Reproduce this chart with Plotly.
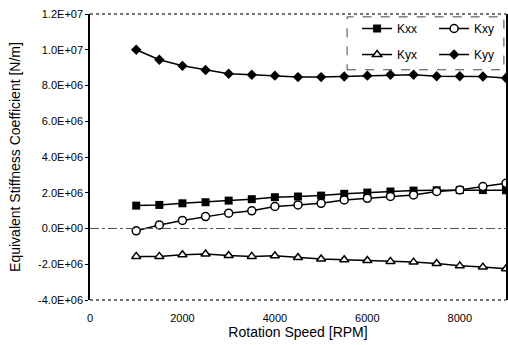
import plotly.graph_objects as go

rpm = [1000, 1500, 2000, 2500, 3000, 3500, 4000, 4500, 5000, 5500, 6000, 6500, 7000, 7500, 8000, 8500, 9000]
kxx = [1.28e6, 1.32e6, 1.41e6, 1.47e6, 1.56e6, 1.64e6, 1.75e6, 1.79e6, 1.84e6, 1.94e6, 2.01e6, 2.07e6, 2.12e6, 2.14e6, 2.15e6, 2.15e6, 2.14e6]
kxy = [-0.13e6, 0.20e6, 0.45e6, 0.67e6, 0.86e6, 0.99e6, 1.23e6, 1.32e6, 1.41e6, 1.60e6, 1.69e6, 1.79e6, 1.88e6, 2.07e6, 2.16e6, 2.35e6, 2.53e6]
kyx = [-1.56e6, -1.56e6, -1.47e6, -1.43e6, -1.51e6, -1.56e6, -1.53e6, -1.62e6, -1.71e6, -1.75e6, -1.79e6, -1.84e6, -1.88e6, -1.96e6, -2.09e6, -2.16e6, -2.25e6]
kyy = [1.00e7, 9.44e6, 9.10e6, 8.87e6, 8.66e6, 8.60e6, 8.55e6, 8.47e6, 8.47e6, 8.50e6, 8.55e6, 8.60e6, 8.60e6, 8.52e6, 8.52e6, 8.50e6, 8.42e6]

y_tickvals = [-4e6, -2e6, 0, 2e6, 4e6, 6e6, 8e6, 1e7, 1.2e7]
y_ticktext = ["-4.0E+06", "-2.0E+06", "0.0E+00", "2.0E+06", "4.0E+06", "6.0E+06", "8.0E+06", "1.0E+07", "1.2E+07"]
x_tickvals = [0, 2000, 4000, 6000, 8000]

font = "Liberation Sans, Arial, sans-serif"
line = dict(color="black", width=1.5)

fig = go.Figure()
fig.add_trace(go.Scatter(x=rpm, y=kxx, name="Kxx", mode="lines+markers", line=line,
                         marker=dict(symbol="square", size=8, color="black"), legend="legend"))
fig.add_trace(go.Scatter(x=rpm, y=kxy, name="Kxy", mode="lines+markers", line=line,
                         marker=dict(symbol="circle", size=8, color="white", line=dict(color="black", width=1.5)), legend="legend"))
fig.add_trace(go.Scatter(x=rpm, y=kyx, name="Kyx", mode="lines+markers", line=line,
                         marker=dict(symbol="triangle-up", size=8, color="white", line=dict(color="black", width=1.5)), legend="legend2"))
fig.add_trace(go.Scatter(x=rpm, y=kyy, name="Kyy", mode="lines+markers", line=line,
                         marker=dict(symbol="diamond", size=8, color="black"), legend="legend2"))

leg = dict(orientation="h", x=0.642, xanchor="left", yanchor="top",
           entrywidth=32, bgcolor="rgba(0,0,0,0)", font=dict(size=12, color="black"))

fig.update_layout(
    width=508, height=345,
    margin=dict(l=90, r=2, t=14, b=45, autoexpand=False),
    paper_bgcolor="white", plot_bgcolor="white",
    font=dict(family=font, size=11, color="black"),
    xaxis=dict(range=[0, 9000], tickvals=x_tickvals, showgrid=False, zeroline=False,
               showline=False, ticks="", ticklabelstandoff=10,
               title=dict(text="Rotation Speed [RPM]", font=dict(size=14), standoff=4)),
    yaxis=dict(range=[-4e6, 1.2e7], tickvals=y_tickvals, ticktext=y_ticktext, showgrid=False,
               zeroline=False, showline=True, linecolor="black", linewidth=1.5, mirror=True,
               ticks="outside", ticklen=3, tickcolor="black",
               title=dict(text="Equivalent Stiffness Coefficient [N/m]", font=dict(size=14), standoff=14)),
    legend=dict(leg, y=1.0),
    legend2=dict(leg, y=0.909),
    shapes=[
        dict(type="line", xref="x", yref="y", x0=0, x1=9000, y0=0, y1=0,
             line=dict(color="#555", width=1, dash="dashdot")),
        dict(type="line", xref="paper", yref="paper", x0=0, x1=1, y0=1, y1=1,
             line=dict(color="#444", width=1.5, dash="dot")),
        dict(type="line", xref="paper", yref="paper", x0=0, x1=1, y0=0, y1=0,
             line=dict(color="#444", width=1.5, dash="dot")),
        dict(type="rect", xref="paper", yref="paper", x0=0.618, x1=0.995, y0=0.805, y1=0.99,
             line=dict(color="#444", width=1, dash="dash")),
    ],
)

fig.write_html("out.html")
